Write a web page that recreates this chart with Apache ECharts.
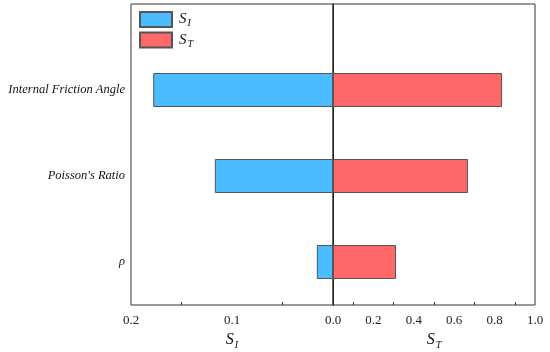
<!DOCTYPE html>
<html>
<head>
<meta charset="utf-8">
<script src="https://cdn.jsdelivr.net/npm/echarts@6/dist/echarts.min.js"></script>
<style>html,body{margin:0;padding:0;background:#fff}#c{width:550px;height:352px}</style>
</head>
<body>
<div id="c"></div>
<script>
// categories (bottom to top), blank slots are spacing positions
const categories = ['', 'ρ', '', "Poisson's Ratio", '', 'Internal Friction Angle', '', ''];
// first-order index S_I (left side)
const s1Values = [null, 0.016, null, 0.117, null, 0.178, null, null];
// total-order index S_T (right side)
const stValues = [null, 0.312, null, 0.668, null, 0.837, null, null];
const leftTicks = [0, 0.1, 0.2];
const rightTicks = [0, 0.2, 0.4, 0.6, 0.8, 1.0];

const chart = echarts.init(document.getElementById('c'));
const serif = 'Liberation Serif';
const lineCol = '#333';
const nameRich = {
  s: {fontFamily: serif, fontStyle: 'italic', fontSize: 16, color: '#111', lineHeight: 20},
  sub: {fontFamily: serif, fontStyle: 'italic', fontSize: 10, color: '#111', verticalAlign: 'bottom', lineHeight: 10, padding: [7, 0, 0, 1]}
};
const legRich = {
  s: {fontFamily: serif, fontStyle: 'italic', fontSize: 15, color: '#111', lineHeight: 18},
  sub: {fontFamily: serif, fontStyle: 'italic', fontSize: 10, color: '#111', verticalAlign: 'bottom', lineHeight: 10, padding: [7, 0, 0, 1]}
};
const tickLabel = {fontFamily: serif, fontSize: 13, color: '#222', margin: 9};

chart.setOption({
  animation: false,
  backgroundColor: '#fff',
  legend: {
    orient: 'vertical', left: 139, top: 11, padding: 0, itemWidth: 32, itemHeight: 15, itemGap: 3,
    icon: 'rect',
    data: ['SI', 'ST'],
    formatter: n => n === 'SI' ? '{s|S}{sub|I}' : '{s|S}{sub|T}',
    textStyle: {rich: legRich, padding: [0, 0, 0, 2]}
  },
  grid: [
    {left: 131, top: 4, width: 202, height: 301, show: true, borderColor: lineCol, borderWidth: 1, outerBoundsMode: 'none', containLabel: false},
    {left: 333, top: 4, width: 202, height: 301, show: true, borderColor: lineCol, borderWidth: 1, outerBoundsMode: 'none', containLabel: false}
  ],
  xAxis: [
    {
      gridIndex: 0, type: 'value', inverse: true, min: 0, max: 0.2, interval: 0.1,
      axisLine: {lineStyle: {color: lineCol}},
      axisTick: {inside: true, length: 5, lineStyle: {color: lineCol}},
      minorTick: {show: true, splitNumber: 2, length: 3, lineStyle: {color: lineCol}},
      splitLine: {show: false},
      axisLabel: Object.assign({}, tickLabel, {
        formatter: v => (v === 0 ? '' : v.toFixed(1)),
        customValues: leftTicks
      }),
      name: '{s|S}{sub|I}', nameLocation: 'middle', nameGap: 25,
      nameTextStyle: {rich: nameRich}
    },
    {
      gridIndex: 1, type: 'value', min: 0, max: 1, interval: 0.2,
      axisLine: {lineStyle: {color: lineCol}},
      axisTick: {inside: true, length: 5, lineStyle: {color: lineCol}},
      minorTick: {show: true, splitNumber: 2, length: 3, lineStyle: {color: lineCol}},
      splitLine: {show: false},
      axisLabel: Object.assign({}, tickLabel, {
        formatter: v => v.toFixed(1),
        customValues: rightTicks
      }),
      name: '{s|S}{sub|T}', nameLocation: 'middle', nameGap: 25,
      nameTextStyle: {rich: nameRich}
    }
  ],
  yAxis: [
    {
      gridIndex: 0, type: 'category', data: categories, boundaryGap: false,
      axisLine: {lineStyle: {color: lineCol}},
      axisTick: {inside: true, length: 5, interval: (i, v) => v !== '', lineStyle: {color: lineCol}},
      axisLabel: {interval: (i, v) => v !== '', fontFamily: serif, fontStyle: 'italic', fontSize: 12.5, color: '#111', margin: 6},
      splitLine: {show: false}
    },
    {
      gridIndex: 1, type: 'category', data: categories, boundaryGap: false,
      axisLine: {lineStyle: {color: '#222'}},
      axisTick: {show: false}, axisLabel: {show: false}, splitLine: {show: false}
    }
  ],
  series: [
    {
      name: 'SI', type: 'bar', xAxisIndex: 0, yAxisIndex: 0, data: s1Values, barWidth: 34,
      itemStyle: {color: '#4BBCFF', borderColor: '#555', borderWidth: 1}
    },
    {
      name: 'ST', type: 'bar', xAxisIndex: 1, yAxisIndex: 1, data: stValues, barWidth: 34,
      itemStyle: {color: '#FF6868', borderColor: '#555', borderWidth: 1}
    }
  ]
});
</script>
</body>
</html>
